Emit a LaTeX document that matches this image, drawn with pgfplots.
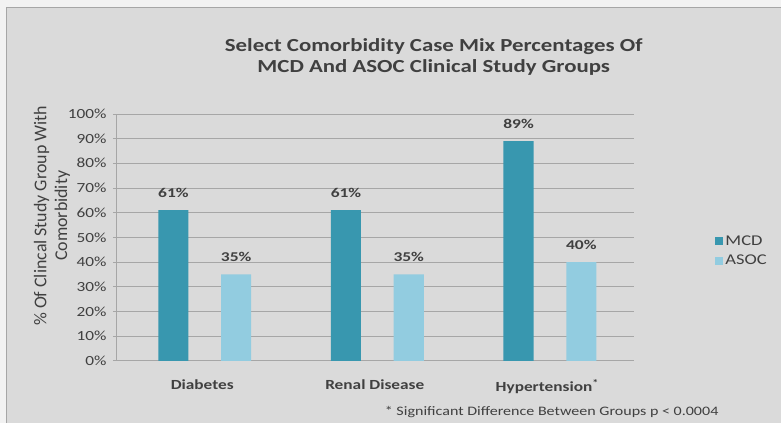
\documentclass[border=0pt]{standalone}
\usepackage{pgfplots}
\pgfplotsset{compat=1.18}
\usepackage{fontspec}
\setmainfont{Carlito}
\definecolor{mcd}{HTML}{3897AF}
\definecolor{asoc}{HTML}{92CCE0}
\definecolor{bg}{HTML}{DADADA}
\definecolor{outerbg}{HTML}{F2F2F2}
\definecolor{txt}{HTML}{404040}
\definecolor{gridc}{HTML}{A6A6A6}
\newcommand{\sx}[1]{\scalebox{1.24}[1]{#1}}
\begin{document}
\begin{tikzpicture}
\fill[outerbg] (0bp,0bp) rectangle (781bp,423bp);
\fill[bg] (7bp,0bp) rectangle (781bp,415bp);
\draw[gray!70, line width=1bp] (7bp,0bp) -- (7bp,415bp) -- (781bp,415bp);
\node[txt, align=center, font=\bfseries\fontsize{18.5}{22}\selectfont] at (434bp,366bp)
  {\sx{Select Comorbidity Case Mix Percentages Of}\\\sx{MCD And ASOC Clinical Study Groups}};
\node[txt, rotate=90, align=center, font=\fontsize{18}{21}\selectfont] at (52bp,207bp)
  {\% Of Clincal Study Group With\\Comorbidity};
\node[txt, font=\fontsize{13}{15}\selectfont] at (552bp,11bp)
  {\sx{* Significant Difference Between Groups p < 0.0004}};
\begin{axis}[
  at={(116bp,62bp)}, anchor=south west,
  width=518bp, height=247bp, scale only axis,
  xmin=-0.5, xmax=2.5, ymin=0, ymax=100,
  axis y line*=left, axis x line*=bottom,
  axis line style={gridc, line width=0.8bp},
  ytick={0,10,...,100},
  yticklabel={\sx{\pgfmathprintnumber{\tick}\%}},
  /pgf/number format/assume math mode=true,
  y tick label style={txt, font=\fontsize{14}{16}\selectfont, xshift=-3bp},
  ytick style={gridc, line width=0.8bp},
  tick align=outside, major tick length=3bp,
  xtick={0,1,2},
  xticklabels={\sx{Diabetes},\sx{Renal Disease},\sx{Hypertension\textsuperscript{*}}},
  x tick label style={txt, font=\bfseries\fontsize{14}{16}\selectfont, yshift=-12bp},
  xtick style={draw=none},
  ymajorgrids, grid style={gridc, line width=0.8bp},
  nodes near coords={\scalebox{1.3}[1]{\pgfmathprintnumber{\pgfplotspointmeta}\%}},
  every node near coord/.append style={txt, font=\bfseries\fontsize{13.5}{15}\selectfont, yshift=9bp},
  legend style={at={(1.152,0.445)}, anchor=west, draw=none, fill=none,
    font=\fontsize{15}{17}\selectfont, text=txt, row sep=4bp},
  legend cell align=left,
  legend image code/.code={\fill[#1] (0bp,-4bp) rectangle (8bp,4bp);},
]
\addplot[ybar, bar width=0.174, bar shift=-0.167, fill=mcd, draw=none,
  every node near coord/.append style={xshift=-28.8bp}]
  coordinates {(0,61) (1,61) (2,89)};
\addlegendentry{\sx{MCD}}
\addplot[ybar, bar width=0.174, bar shift=0.197, fill=asoc, draw=none,
  every node near coord/.append style={xshift=34bp}]
  coordinates {(0,35) (1,35) (2,40)};
\addlegendentry{\sx{ASOC}}
\end{axis}
\end{tikzpicture}
\end{document}
